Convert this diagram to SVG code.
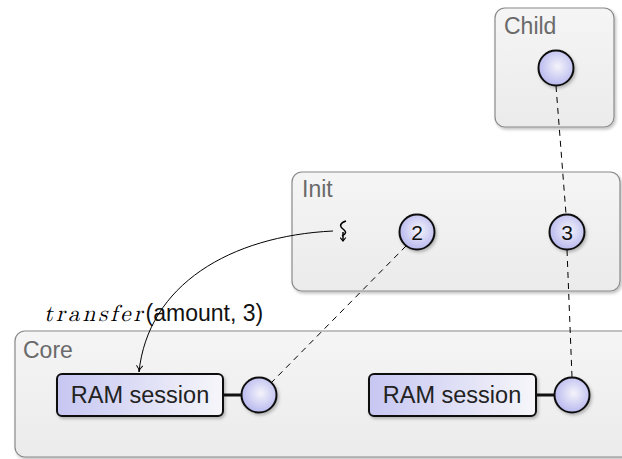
<svg xmlns="http://www.w3.org/2000/svg" width="622" height="459" viewBox="0 0 622 459">
<defs>
  <linearGradient id="boxg" x1="0" y1="0" x2="0" y2="1">
    <stop offset="0" stop-color="#f5f5f5"/>
    <stop offset="1" stop-color="#ebebeb"/>
  </linearGradient>
  <linearGradient id="ramg" x1="0" y1="0" x2="1" y2="0">
    <stop offset="0" stop-color="#c6c6f2"/>
    <stop offset="1" stop-color="#f6f6fa"/>
  </linearGradient>
  <radialGradient id="cirg" cx="0.55" cy="0.45" r="0.6">
    <stop offset="0" stop-color="#f4f4fb"/>
    <stop offset="1" stop-color="#b4b4ee"/>
  </radialGradient>
  <filter id="sh" x="-10%" y="-10%" width="130%" height="130%">
    <feDropShadow dx="1.5" dy="2" stdDeviation="1.5" flood-color="#000" flood-opacity="0.25"/>
  </filter>
  <marker id="arr" viewBox="0 0 10 10" refX="9" refY="5" markerWidth="8" markerHeight="8" orient="auto" markerUnits="userSpaceOnUse">
    <path d="M1,1 Q5,5 9,5 Q5,5 1,9" fill="none" stroke="#000" stroke-width="1.2"/>
  </marker>
  <marker id="sqarr" viewBox="0 0 10 10" refX="5" refY="9" markerWidth="7" markerHeight="7" orient="0" markerUnits="userSpaceOnUse">
    <path d="M1,4 L5,9 L9,4" fill="none" stroke="#000" stroke-width="1.6"/>
  </marker>
</defs>
<style>
  .box { fill: url(#boxg); stroke: #8a8a8a; stroke-width: 1.2; filter: url(#sh); }
  .lbl { font-family: "Liberation Sans", Arial, sans-serif; font-size: 23px; fill: #6a6a6a; }
  .ram { fill: url(#ramg); stroke: #111; stroke-width: 2; filter: url(#sh); }
  .ramt { font-family: "Liberation Sans", Arial, sans-serif; font-size: 23.5px; fill: #222; text-anchor: middle; }
  .cap { fill: url(#cirg); stroke: #111; stroke-width: 2; filter: url(#sh); }
  .num { font-family: "Liberation Sans", Arial, sans-serif; font-size: 21px; fill: #111; text-anchor: middle; }
  .dash { fill: none; stroke: #000; stroke-width: 1; stroke-dasharray: 6 5; }
  .bar { stroke: #111; stroke-width: 3; }
</style>

<g id="child">
  <rect class="box" x="495" y="8" width="119" height="119" rx="10"/>
  <text class="lbl" x="504" y="34">Child</text>
  <circle class="cap" cx="556" cy="68" r="17.5"/>
</g>

<g id="init">
  <rect class="box" x="292" y="172" width="328" height="119" rx="10"/>
  <text class="lbl" x="302" y="197">Init</text>
  <path d="M346,221 C340,223 339,226 343,229 C347,232 346,234 342,236 M343,232 L343,241" fill="none" stroke="#000" stroke-width="1.5" marker-end="url(#sqarr)"/>
  <g id="cap2">
    <circle class="cap" cx="417" cy="232" r="17.5"/>
    <text class="num" x="417" y="240">2</text>
  </g>
  <g id="cap3">
    <circle class="cap" cx="567" cy="232" r="17.5"/>
    <text class="num" x="567" y="240">3</text>
  </g>
</g>

<g id="core">
  <rect class="box" x="15" y="331" width="640" height="126" rx="10"/>
  <text class="lbl" x="23" y="358">Core</text>
  <g id="ram1">
    <rect class="ram" x="57" y="374" width="166" height="42" rx="5"/>
    <text class="ramt" x="140" y="403">RAM session</text>
  </g>
  <g id="ram2">
    <rect class="ram" x="369" y="374" width="167" height="42" rx="5"/>
    <text class="ramt" x="452" y="403">RAM session</text>
  </g>
  <line class="bar" x1="223" y1="395" x2="242" y2="395"/>
  <circle class="cap" cx="259" cy="395" r="17.5"/>
  <line class="bar" x1="536" y1="395" x2="555" y2="395"/>
  <circle class="cap" cx="572" cy="395" r="17.5"/>
</g>

<text x="44" y="321" font-size="23"><tspan font-family="'Latin Modern Math', 'Liberation Serif', serif" font-style="italic" letter-spacing="3">transfer</tspan><tspan font-family="'Liberation Sans', Arial, sans-serif" fill="#111">(amount, 3)</tspan></text>

<g id="connectors">
  <path class="dash" d="M556,86 L566,214"/>
  <path class="dash" d="M567,250 L572,377"/>
  <path class="dash" d="M406,246 L271,383"/>
  <path d="M333,231 C230,236 148,285 139,372" fill="none" stroke="#000" stroke-width="1" marker-end="url(#arr)"/>
</g>
</svg>
